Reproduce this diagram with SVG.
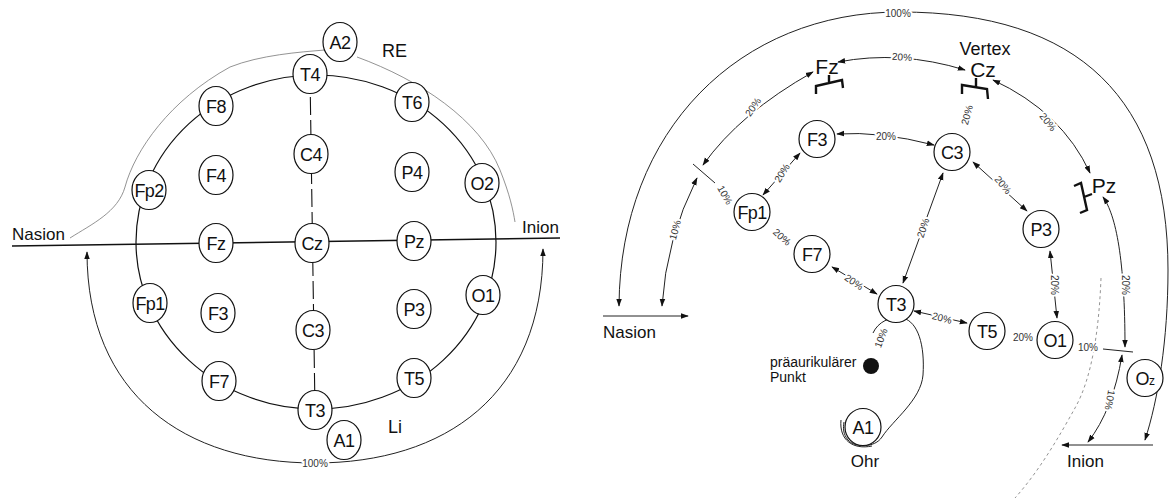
<svg xmlns="http://www.w3.org/2000/svg" width="1169" height="498" viewBox="0 0 1169 498">
<defs>
<marker id="ah" viewBox="0 0 10 10" refX="9" refY="5" markerWidth="8" markerHeight="8" markerUnits="userSpaceOnUse" orient="auto-start-reverse"><path d="M0,1.5 L10,5 L0,8.5 z" fill="#111"/></marker>
</defs>
<style>
text{font-family:"Liberation Sans",Arial,sans-serif;fill:#111}
.nd ellipse{fill:#fff;stroke:#111;stroke-width:1.2}
.nd text{font-size:18px;text-anchor:middle;letter-spacing:-0.6px}
.ln{fill:none;stroke:#222;stroke-width:1}
.ar{fill:none;stroke:#222;stroke-width:1;marker-start:url(#ah);marker-end:url(#ah)}
.thin{fill:none;stroke:#777;stroke-width:0.8}
.br{fill:none;stroke:#111;stroke-width:2.4}
.big{font-size:17px}
.pc{font-size:10px;fill:#333;text-anchor:middle;dominant-baseline:central;stroke:#fff;stroke-width:4px;paint-order:stroke;stroke-linejoin:round}
.lab{font-size:21px;text-anchor:middle}
</style>

<g id="connectors">
<!-- left diagram -->
<path class="thin" d="M70,238 C92,224 118,212 125,187 C135,150 170,100 230,67 C260,55 300,52 325,50"/>
<path class="thin" d="M357,57 C420,80 480,120 500,170 C510,195 513,210 515,222"/>
<ellipse cx="316" cy="242" rx="180" ry="167" fill="none" stroke="#111" stroke-width="1.2"/>
<path d="M12,246 L560,238" fill="none" stroke="#111" stroke-width="1.6"/>
<path d="M310,74 L315,410" fill="none" stroke="#111" stroke-width="1.1" stroke-dasharray="18 5"/>
<path class="ar" d="M87,252 C87,395 185,463 315,463 C445,463 543,395 543,249"/>

<!-- right diagram -->
<path class="thin" d="M1101,278 C1099,330 1092,378 1075,408 C1060,435 1040,470 1015,498" stroke-dasharray="3 3" stroke="#999"/>
<path class="ar" d="M619,306 C620,130 740,12 900,12 C1080,12 1168,100 1168,270 C1168,340 1158,400 1145,440"/>
<path class="ar" d="M662,306 Q666,240 697,178"/>
<path class="ar" d="M703,165 Q740,113 813,72"/>
<path class="ar" d="M838,62 Q900,50 965,70"/>
<path class="ar" d="M993,80 Q1062,112 1090,173"/>
<path class="ar" d="M1103,197 C1116,215 1125,260 1125,347"/>
<path class="ar" d="M1122,355 Q1113,410 1088,442"/>
<path class="ln" d="M1153,445 L1062,445" marker-end="url(#ah)"/>
<path class="ln" d="M603,316 L688,316" marker-end="url(#ah)"/>
<path class="ln" d="M693,164 L715,183"/>
<path class="ln" d="M1103,349 L1133,352" stroke-width="1.3"/>
<path class="ar" d="M837,134 Q880,131 934,145"/>
<path class="ar" d="M763,195 L800,153"/>
<path class="ar" d="M832,267 L877,294"/>
<path class="ar" d="M943,173 L903,283"/>
<path class="ar" d="M973,162 L1027,211"/>
<path class="ar" d="M1050,251 L1057,318"/>
<path class="ar" d="M914,311 L967,323"/>
<path class="ln" d="M873,333 C878,322 890,316 903,318 C918,322 925,345 923,375 C921,400 893,420 882,437 C875,448 855,448 848,440 C843,434 843,428 844,422"/>
<path class="ln" d="M841,420 C839,440 853,450 872,446"/>
<!-- brackets -->
<path class="br" d="M816,94 L816,86 L842,80 L843,88 M829,83 L829,75"/>
<path class="br" d="M962,94 L962,85 L987,89 L988,99 M976,87 L976,78"/>
<path class="br" d="M1074,186 L1081,183 L1087,210 L1080,213 M1084,197 L1092,194"/>
</g>

<!-- left diagram labels -->
<text x="12" y="240" class="big">Nasion</text>
<text x="522" y="233" class="big">Inion</text>
<text x="382" y="57" font-size="18">RE</text>
<text x="388" y="433" font-size="18">Li</text>
<text x="315" y="463" class="pc">100%</text>

<!-- left nodes -->
<g id="L-A2" class="nd"><ellipse cx="340" cy="42" rx="17" ry="19.5"/><text x="340" y="48.5">A2</text></g>
<g id="L-T4" class="nd"><ellipse cx="310" cy="74" rx="17" ry="19.5"/><text x="310" y="80.5">T4</text></g>
<g id="L-F8" class="nd"><ellipse cx="216" cy="106" rx="17" ry="19.5"/><text x="216" y="112.5">F8</text></g>
<g id="L-T6" class="nd"><ellipse cx="412" cy="102" rx="17" ry="19.5"/><text x="412" y="108.5">T6</text></g>
<g id="L-C4" class="nd"><ellipse cx="311" cy="154" rx="17" ry="19.5"/><text x="311" y="160.5">C4</text></g>
<g id="L-F4" class="nd"><ellipse cx="216" cy="175" rx="17" ry="19.5"/><text x="216" y="181.5">F4</text></g>
<g id="L-P4" class="nd"><ellipse cx="412" cy="172" rx="17" ry="19.5"/><text x="412" y="178.5">P4</text></g>
<g id="L-Fp2" class="nd"><ellipse cx="149" cy="190" rx="17" ry="19.5"/><text x="149" y="196.5">Fp2</text></g>
<g id="L-O2" class="nd"><ellipse cx="482" cy="183" rx="17" ry="19.5"/><text x="482" y="189.5">O2</text></g>
<g id="L-Fz" class="nd"><ellipse cx="216" cy="243" rx="17" ry="19.5"/><text x="216" y="249.5">Fz</text></g>
<g id="L-Cz" class="nd"><ellipse cx="312" cy="243" rx="17" ry="19.5"/><text x="312" y="249.5">Cz</text></g>
<g id="L-Pz" class="nd"><ellipse cx="414" cy="241" rx="17" ry="19.5"/><text x="414" y="247.5">Pz</text></g>
<g id="L-Fp1" class="nd"><ellipse cx="150" cy="303" rx="17" ry="19.5"/><text x="150" y="309.5">Fp1</text></g>
<g id="L-F3" class="nd"><ellipse cx="218" cy="313" rx="17" ry="19.5"/><text x="218" y="319.5">F3</text></g>
<g id="L-C3" class="nd"><ellipse cx="313" cy="330" rx="17" ry="19.5"/><text x="313" y="336.5">C3</text></g>
<g id="L-P3" class="nd"><ellipse cx="414" cy="309" rx="17" ry="19.5"/><text x="414" y="315.5">P3</text></g>
<g id="L-O1" class="nd"><ellipse cx="483" cy="295" rx="17" ry="19.5"/><text x="483" y="301.5">O1</text></g>
<g id="L-F7" class="nd"><ellipse cx="219" cy="381" rx="17" ry="19.5"/><text x="219" y="387.5">F7</text></g>
<g id="L-T5" class="nd"><ellipse cx="414" cy="378" rx="17" ry="19.5"/><text x="414" y="384.5">T5</text></g>
<g id="L-T3" class="nd"><ellipse cx="315" cy="410" rx="17" ry="19.5"/><text x="315" y="416.5">T3</text></g>
<g id="L-A1" class="nd"><ellipse cx="344" cy="440" rx="17" ry="19.5"/><text x="344" y="446.5">A1</text></g>

<!-- right diagram labels -->
<text x="898" y="13" class="pc">100%</text>
<text x="985" y="55" font-size="18" text-anchor="middle">Vertex</text>
<text x="983" y="77" class="lab" font-size="22">Cz</text>
<text x="827" y="74" class="lab">Fz</text>
<text x="1104" y="193" class="lab">Pz</text>
<text x="603" y="338" class="big">Nasion</text>
<text x="1067" y="467" class="big">Inion</text>
<text x="865" y="467" class="big" text-anchor="middle">Ohr</text>
<text x="770" y="367" font-size="14">präaurikulärer</text>
<text x="770" y="382" font-size="14">Punkt</text>
<circle cx="871" cy="366" r="8" fill="#111"/>

<text class="pc" transform="translate(753,107) rotate(-55)">20%</text>
<text class="pc" transform="translate(725,195) rotate(60)">10%</text>
<text class="pc" transform="translate(675,230) rotate(-75)">10%</text>
<text class="pc" transform="translate(902,57) rotate(4)">20%</text>
<text class="pc" transform="translate(1048,122) rotate(52)">20%</text>
<text class="pc" transform="translate(1125,285) rotate(90)">20%</text>
<text class="pc" transform="translate(1110,400) rotate(100)">10%</text>
<text class="pc" transform="translate(886,136)">20%</text>
<text class="pc" transform="translate(782,173) rotate(-58)">20%</text>
<text class="pc" transform="translate(782,237) rotate(42)">20%</text>
<text class="pc" transform="translate(854,282) rotate(35)">20%</text>
<text class="pc" transform="translate(923,228) rotate(-72)">20%</text>
<text class="pc" transform="translate(967,115) rotate(-75)">20%</text>
<text class="pc" transform="translate(1003,185) rotate(50)">20%</text>
<text class="pc" transform="translate(1054,285) rotate(90)">20%</text>
<text class="pc" transform="translate(942,318) rotate(15)">20%</text>
<text class="pc" transform="translate(1023,337)">20%</text>
<text class="pc" transform="translate(1088,347)">10%</text>
<text class="pc" transform="translate(881,338) rotate(-70)">10%</text>

<!-- right nodes -->
<g id="R-F3" class="nd"><ellipse cx="817" cy="139" rx="18" ry="18.5"/><text x="817" y="145.5">F3</text></g>
<g id="R-C3" class="nd"><ellipse cx="952" cy="152" rx="18" ry="18.5"/><text x="952" y="158.5">C3</text></g>
<g id="R-Fp1" class="nd"><ellipse cx="752" cy="212" rx="18" ry="18.5"/><text x="752" y="218.5">Fp1</text></g>
<g id="R-F7" class="nd"><ellipse cx="812" cy="254" rx="18" ry="18.5"/><text x="812" y="260.5">F7</text></g>
<g id="R-T3" class="nd"><ellipse cx="896" cy="304" rx="18" ry="18.5"/><text x="896" y="310.5">T3</text></g>
<g id="R-P3" class="nd"><ellipse cx="1041" cy="229" rx="18" ry="18.5"/><text x="1041" y="235.5">P3</text></g>
<g id="R-T5" class="nd"><ellipse cx="987" cy="331" rx="18" ry="18.5"/><text x="987" y="337.5">T5</text></g>
<g id="R-O1" class="nd"><ellipse cx="1055" cy="340" rx="18" ry="18.5"/><text x="1055" y="346.5">O1</text></g>
<g id="R-A1" class="nd"><ellipse cx="863" cy="427" rx="18" ry="18.5"/><text x="863" y="433.5">A1</text></g>
<g id="R-Oz" class="nd"><ellipse cx="1145" cy="378" rx="18" ry="18.5"/><text x="1145" y="384.5">O<tspan font-size="12">z</tspan></text></g>
</svg>
